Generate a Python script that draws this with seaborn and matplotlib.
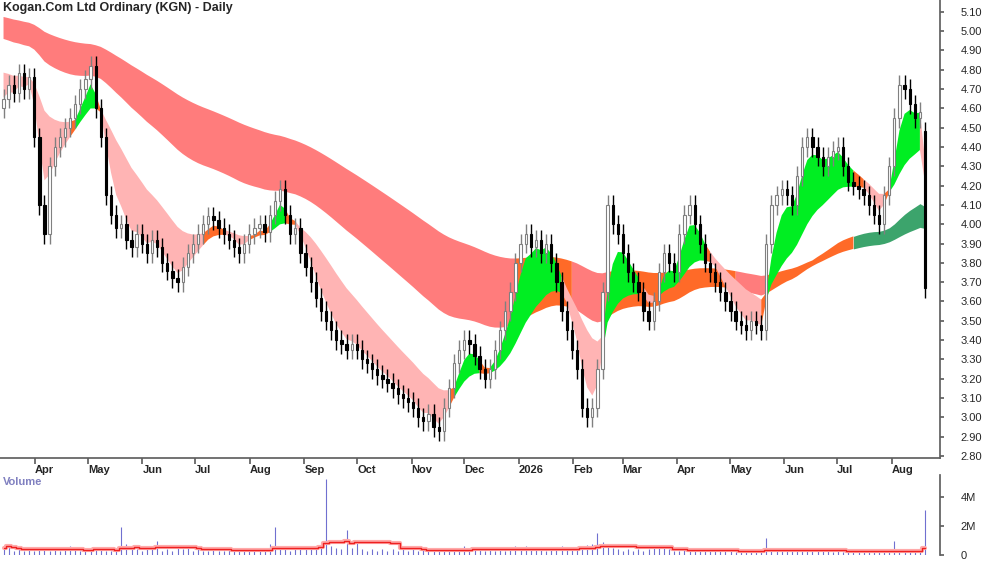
import numpy as np
import pandas as pd
import matplotlib
matplotlib.use('Agg')
import matplotlib.pyplot as plt
import matplotlib.dates as mdates
import seaborn as sns

# candle closes, roughly one candle per two trading days, grouped by month
closes = [4.65, 4.72, 4.68, 4.78, 4.70, 4.76,
          4.45, 4.10, 3.95, 4.30, 4.40, 4.45, 4.50, 4.55, 4.62, 4.70,
          4.75, 4.82, 4.60, 4.45, 4.15, 4.05, 3.98, 4.00, 3.92, 3.88, 3.95,
          3.90, 3.85, 3.92, 3.88, 3.80, 3.76, 3.72, 3.70, 3.78, 3.85,
          3.90, 3.95, 4.00, 4.04, 4.02, 3.98, 3.95, 3.92, 3.88, 3.85, 3.90,
          3.95, 3.98, 4.00, 3.96, 4.05, 4.12, 4.18, 4.05, 3.95, 3.98,
          3.85, 3.78, 3.70, 3.62, 3.55, 3.50, 3.45, 3.40, 3.38, 3.35, 3.38,
          3.35, 3.30, 3.28, 3.25, 3.22, 3.20, 3.18, 3.15, 3.12, 3.10, 3.08, 3.05,
          3.00, 2.98, 3.02, 2.95, 2.93, 3.05, 3.15, 3.28, 3.35, 3.40,
          3.38, 3.32, 3.25, 3.20, 3.25, 3.35, 3.45, 3.55, 3.65, 3.80,
          3.90, 3.95, 3.88, 3.92, 3.85, 3.90, 3.80, 3.70, 3.55, 3.45,
          3.35, 3.25, 3.05, 3.00, 3.05, 3.25, 3.65, 4.10, 4.00, 3.95,
          3.85, 3.75, 3.70, 3.65, 3.55, 3.50, 3.60, 3.75, 3.85, 3.80, 3.75,
          3.95, 4.05, 4.10, 4.00, 3.90, 3.80, 3.75, 3.70, 3.65, 3.60,
          3.55, 3.50, 3.48, 3.45, 3.50, 3.48, 3.45, 3.90, 4.10, 4.15, 4.18,
          4.15, 4.10, 4.25, 4.40, 4.45, 4.40, 4.35, 4.30, 4.35, 4.38,
          4.40, 4.30, 4.22, 4.20, 4.18, 4.15, 4.10, 4.05, 4.00, 4.15, 4.30,
          4.55, 4.72, 4.70, 4.62, 4.55, 4.58, 3.67]

volumes = [0.5, 0.8, 0.3, 0.4, 0.3, 0.4,
           0.3, 0.5, 0.4, 0.3, 0.5, 0.3, 0.4, 0.6, 0.5, 0.3,
           0.4, 0.3, 0.5, 0.4, 0.3, 0.3, 0.4, 1.9, 0.8, 0.5, 0.4,
           0.3, 0.5, 0.4, 1.0, 0.3, 0.4, 0.3, 0.5, 0.4, 0.6,
           0.3, 0.4, 0.3, 0.3, 0.4, 0.3, 0.3, 0.4, 0.3, 0.3, 0.4,
           0.3, 0.4, 0.3, 0.3, 0.8, 1.9, 0.5, 0.4, 0.3, 0.4,
           0.4, 0.5, 0.4, 0.6, 0.5, 5.2, 0.6, 0.5, 0.4, 1.7, 0.5,
           1.0, 0.4, 0.3, 0.4, 0.3, 0.4, 0.3, 0.4, 0.3, 0.4, 0.3, 0.4,
           0.3, 0.4, 0.3, 0.4, 0.5, 0.4, 0.3, 0.4, 0.5, 0.6,
           0.4, 0.5, 0.4, 0.3, 0.4, 0.3, 0.4, 0.3, 0.4, 0.6,
           0.5, 0.6, 0.4, 0.5, 0.4, 0.3, 0.5, 0.4, 0.6, 0.5,
           0.4, 0.5, 0.6, 0.7, 0.8, 1.5, 0.9, 0.6, 0.5, 0.4,
           0.3, 0.4, 0.3, 0.4, 0.3, 0.4, 0.5, 0.6, 0.5, 0.4, 0.3,
           0.3, 0.4, 0.3, 0.3, 0.4, 0.3, 0.3, 0.4, 0.3, 0.3,
           0.3, 0.2, 0.3, 0.2, 0.3, 0.2, 0.3, 1.2, 0.5, 0.4, 0.3,
           0.3, 0.4, 0.3, 0.3, 0.4, 0.3, 0.4, 0.3, 0.3, 0.2,
           0.3, 0.2, 0.3, 0.2, 0.3, 0.2, 0.3, 0.2, 0.3, 0.2, 0.3,
           1.0, 0.4, 0.3, 0.3, 0.2, 0.3, 3.1]

first_open = 4.60
wick = 0.05
short_spans = [4, 6, 8, 11, 14, 18]
long_spans = [55, 62, 70, 80, 92, 110]
short_seed = (4.66, 4.80)   # fastest, slowest at chart start
long_seed = (4.97, 5.08)

month_labels = ['Apr', 'May', 'Jun', 'Jul', 'Aug', 'Sep', 'Oct', 'Nov', 'Dec',
                '2026', 'Feb', 'Mar', 'Apr', 'May', 'Jun', 'Jul', 'Aug']
month_starts = pd.date_range('2025-04-01', '2026-08-01', freq='MS')

dates = pd.date_range('2025-03-14', '2026-08-20', periods=len(closes))
x = mdates.date2num(dates)
c = np.array(closes)
o = np.r_[first_open, c[:-1]]
o[-1] = 4.48
h = np.maximum(o, c) + wick
l = np.minimum(o, c) - wick


def ema_ribbon(spans, seed):
    out = []
    for i, s in enumerate(spans):
        a = 2 / (s + 1)
        v = seed[0] + (seed[1] - seed[0]) * i / (len(spans) - 1)
        e = []
        for p in c:
            v = a * p + (1 - a) * v
            e.append(v)
        out.append(e)
    return np.array(out)


sr = ema_ribbon(short_spans, short_seed)
lr = ema_ribbon(long_spans, long_seed)

sns.set_theme(style='white')
plt.rcParams['font.family'] = ['Liberation Sans', 'DejaVu Sans']
fig = plt.figure(figsize=(10, 5.62), dpi=100)
ax = fig.add_axes([0, 0.185, 0.94, 0.815])
axv = fig.add_axes([0, 0.012, 0.94, 0.143])


def fill_band(ax, rib, colors_for):
    lo, hi = rib.min(0), rib.max(0)
    cols = colors_for(rib)
    for col in set(cols):
        m = np.array([k == col for k in cols])
        m = m | np.r_[m[1:], False]
        ax.fill_between(x, lo, hi, where=m, color=col, lw=0, zorder=1)


def long_cols(rib):
    d = rib[0] - rib[-1]
    mean = pd.Series(rib.mean(0))
    slope = mean.diff(6).fillna(-1).values / 6
    return ['#3ca46c' if v > 0.06 else '#ff6a28' if s > -0.0025 else '#ff7c7c'
            for v, s in zip(d, slope)]


def short_cols(rib):
    d = rib[0] - rib[-1]
    return ['#00ee22' if v > 0.04 else '#ff6a28' if v > -0.01 else '#ffb4b4' for v in d]


fill_band(ax, lr, long_cols)
fill_band(ax, sr, short_cols)

w = (x[1] - x[0]) * 0.45
for xi, oi, hi_, li, ci in zip(x, o, h, l, c):
    down = ci < oi
    col = 'black' if down else '#808080'
    ax.vlines(xi, li, hi_, color=col, lw=1, zorder=3)
    ax.add_patch(plt.Rectangle((xi - w / 2, min(oi, ci)), w, max(abs(ci - oi), 0.005),
                               facecolor='black' if down else 'white',
                               edgecolor=col, lw=0.8, zorder=4))

ax.set_ylim(2.79, 5.16)
ax.set_xlim(x[0] - 2, x[0] + (x[-1] - x[0]) * 940 / 925)
ax.yaxis.tick_right()
ax.set_yticks(np.round(np.arange(2.8, 5.11, 0.1), 2))
ax.set_yticklabels([f'{v:.2f}' for v in np.arange(2.8, 5.11, 0.1)], fontsize=8)
ax.tick_params(axis='y', length=3, pad=12, right=True, color='#606060')
mx = mdates.date2num(month_starts)
ax.set_xticks(mx)
ax.set_xticklabels(month_labels, fontsize=8, fontweight='bold', ha='left')
ax.tick_params(axis='x', length=4, pad=1, bottom=True, color='#606060')
for s in ['top', 'left']:
    ax.spines[s].set_visible(False)
ax.spines['right'].set_color('#606060')
ax.spines['bottom'].set_color('#606060')
ax.text(0.003, 0.995, 'Kogan.Com Ltd Ordinary (KGN) - Daily', transform=ax.transAxes,
        fontsize=9, fontweight='bold', va='top', ha='left')

vol = pd.DataFrame({'date': x, 'volume': volumes})
vol['avg'] = vol['volume'].rolling(15, min_periods=1).mean()
axv.vlines(vol['date'], 0, vol['volume'], color='#7070d0', lw=0.8)
sns.lineplot(data=vol, x='date', y='avg', ax=axv, color='#ffaaaa', lw=3, drawstyle='steps-mid')
sns.lineplot(data=vol, x='date', y='avg', ax=axv, color='#ee2020', lw=1, drawstyle='steps-mid')
axv.set_xlim(ax.get_xlim())
axv.set_ylim(0, 5.5)
axv.yaxis.tick_right()
axv.set_yticks([0, 2, 4])
axv.set_yticklabels(['0', '2M', '4M'], fontsize=8)
axv.tick_params(axis='y', length=3, pad=12, right=True, color='#606060')
axv.set_xticks([])
axv.set_xlabel('')
axv.set_ylabel('')
for s in ['top', 'left', 'bottom']:
    axv.spines[s].set_visible(False)
axv.spines['right'].set_color('#606060')
axv.text(0.003, 0.97, 'Volume', transform=axv.transAxes, fontsize=8,
         fontweight='bold', color='#8080c0', va='top')

fig.savefig('out.png', dpi=100)
